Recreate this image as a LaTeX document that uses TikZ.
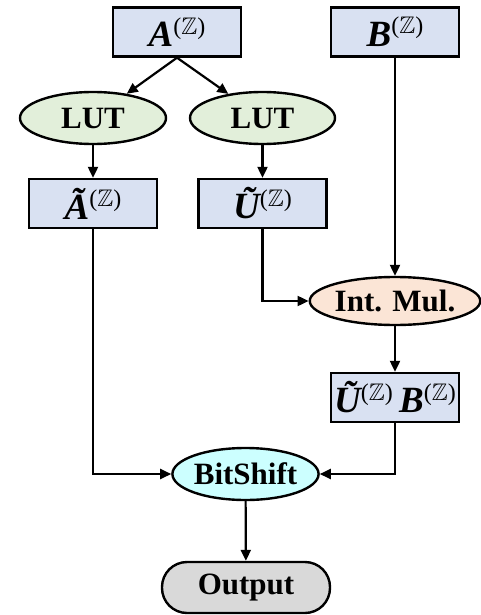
\documentclass[tikz,border=0pt]{standalone}
\usepackage{amssymb}
\usepackage{fontspec}
\setmainfont{Liberation Serif}
\usetikzlibrary{shapes.geometric,arrows.meta}
\definecolor{boxblue}{HTML}{D9E1F2}
\definecolor{lutgreen}{HTML}{E2EFDA}
\definecolor{mulpeach}{HTML}{FBE5D6}
\definecolor{shiftcyan}{HTML}{CCFFFF}
\definecolor{outgray}{HTML}{D9D9D9}
\newcommand\zsup{\raisebox{0.34em}{\fontsize{24}{26}\selectfont\mdseries\upshape($\mathbb{Z}$)}}
\newcommand\mlet[1]{{\bfseries\itshape #1}}
\begin{document}
\begin{tikzpicture}[x=1pt,y=-1pt,
  every node/.style={font=\fontsize{31}{36}\selectfont\bfseries, inner sep=0pt},
  mbox/.style={draw, line width=2.4pt, fill=boxblue, minimum width=128pt, minimum height=49pt, font=\fontsize{37}{40}\selectfont},
  oval/.style={draw, line width=2.4pt, ellipse},
  conn/.style={line width=2.2pt, -{Triangle[length=11pt,width=10pt]}}
]
\useasboundingbox (0,0) rectangle (481,615);
\node[mbox] (A) at (177,32) {\mlet{A}\zsup};
\node[mbox] (B) at (395,32) {\mlet{B}\zsup};
\node[oval, fill=lutgreen, minimum width=146pt, minimum height=52pt] (lut1) at (93,118) {LUT};
\node[oval, fill=lutgreen, minimum width=145pt, minimum height=52pt] (lut2) at (262.5,118) {LUT};
\node[mbox] (At) at (93,203.5) {\mlet{Ã}\zsup};
\node[mbox] (Ut) at (262.5,203.5) {\mlet{Ũ}\zsup};
\node[oval, fill=mulpeach, minimum width=160pt, minimum height=48pt] (mul) at (395,301) {Int. Mul.};
\node[mbox] (UB) at (395,397.5) {\mlet{Ũ}\zsup\,\mlet{B}\zsup};
\node[oval, fill=shiftcyan, minimum width=145pt, minimum height=52pt] (shift) at (245.5,474) {BitShift};
\node[draw, line width=2.4pt, fill=outgray, rounded corners=25pt, minimum width=168pt, minimum height=51pt] (out) at (246,587.5) {Output};
\draw[conn] (A.south) -- (lut1);
\draw[conn] (A.south) -- (lut2);
\draw[conn] (lut1) -- (At);
\draw[conn] (lut2) -- (Ut);
\draw[conn] (B) -- (mul);
\draw[conn] (Ut.south) |- (mul.west);
\draw[conn] (mul) -- (UB);
\draw[conn] (At.south) |- (shift.west);
\draw[conn] (UB.south) |- (shift.east);
\draw[conn] (shift) -- (out);
\end{tikzpicture}
\end{document}
